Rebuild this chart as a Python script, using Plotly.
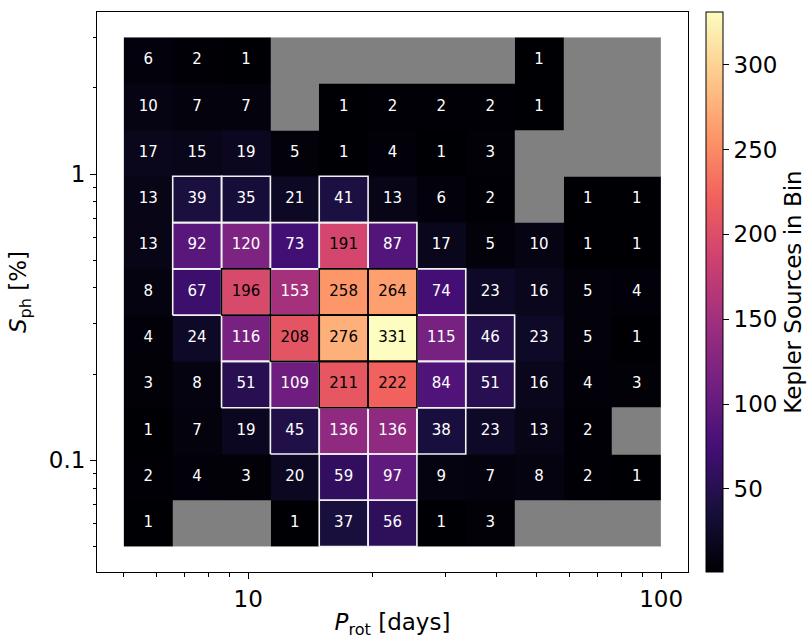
import numpy as np
import plotly.graph_objects as go

# Bin edges: rotation period [days] and photometric activity index S_ph [%]
prot_edges = np.logspace(np.log10(5.0), np.log10(100.0), 12)
sph_edges = np.logspace(np.log10(0.05), np.log10(3.0), 12)

# Counts per bin, listed from the top S_ph row down to the bottom row
# (None marks an empty bin)
row_11 = [6, 2, 1, None, None, None, None, None, 1, None, None]
row_10 = [10, 7, 7, None, 1, 2, 2, 2, 1, None, None]
row_09 = [17, 15, 19, 5, 1, 4, 1, 3, None, None, None]
row_08 = [13, 39, 35, 21, 41, 13, 6, 2, None, 1, 1]
row_07 = [13, 92, 120, 73, 191, 87, 17, 5, 10, 1, 1]
row_06 = [8, 67, 196, 153, 258, 264, 74, 23, 16, 5, 4]
row_05 = [4, 24, 116, 208, 276, 331, 115, 46, 23, 5, 1]
row_04 = [3, 8, 51, 109, 211, 222, 84, 51, 16, 4, 3]
row_03 = [1, 7, 19, 45, 136, 136, 38, 23, 13, 2, None]
row_02 = [2, 4, 3, 20, 59, 97, 9, 7, 8, 2, 1]
row_01 = [1, None, None, 1, 37, 56, 1, 3, None, None, None]

rows_bottom_up = [row_01, row_02, row_03, row_04, row_05, row_06,
                  row_07, row_08, row_09, row_10, row_11]

x_ticks = [10, 100]
y_ticks = [0.1, 1]
cbar_ticks = [50, 100, 150, 200, 250, 300]

counts = np.array([[np.nan if v is None else v for v in r] for r in rows_bottom_up],
                  dtype=float)
empty = np.where(np.isnan(counts), 1.0, np.nan)

magma = ['#000004', '#180f3d', '#440f76', '#721f81', '#9e2f7f',
         '#cd4071', '#f1605d', '#fd9668', '#feca8d', '#fcfdbf']
magma_scale = [[i / (len(magma) - 1), c] for i, c in enumerate(magma)]

zmin = np.nanmin(counts)
zmax = np.nanmax(counts)

fig = go.Figure()

# empty bins in grey
fig.add_trace(go.Heatmap(
    x=prot_edges, y=sph_edges, z=empty,
    colorscale=[[0, '#808080'], [1, '#808080']],
    showscale=False, hoverinfo='skip'))

# counts
fig.add_trace(go.Heatmap(
    x=prot_edges, y=sph_edges, z=counts,
    colorscale=magma_scale, zmin=zmin, zmax=zmax,
    colorbar=dict(
        x=(706 - 97) / 591, xanchor='left', xpad=0, ypad=0,
        y=0.5, yanchor='middle', len=1.0, lenmode='fraction',
        thickness=17, outlinewidth=1, outlinecolor='black',
        tickvals=cbar_ticks, ticks='outside', ticklen=6, tickcolor='black',
        tickfont=dict(family='DejaVu Sans', size=23, color='black'),
        title=dict(text='Kepler Sources in Bin', side='right',
                   font=dict(family='DejaVu Sans', size=23, color='black')),
    ),
    hoverinfo='skip'))

# cell outlines for well-populated bins, and the count labels
white_x, white_y, black_x, black_y = [], [], [], []
text_x, text_y, text_s, text_c = [], [], [], []
for j in range(counts.shape[0]):
    for i in range(counts.shape[1]):
        v = counts[j, i]
        if np.isnan(v):
            continue
        x0, x1 = prot_edges[i], prot_edges[i + 1]
        y0, y1 = sph_edges[j], sph_edges[j + 1]
        px = [x0, x1, x1, x0, x0, None]
        py = [y0, y0, y1, y1, y0, None]
        if v >= 193:
            black_x += px
            black_y += py
        elif v > 30:
            white_x += px
            white_y += py
        text_x.append(np.sqrt(x0 * x1))
        text_y.append(np.sqrt(y0 * y1))
        text_s.append(str(int(v)))
        text_c.append('black' if v >= 190 else 'white')

fig.add_trace(go.Scatter(x=white_x, y=white_y, mode='lines',
                         line=dict(color='#f2f2f2', width=1.6),
                         hoverinfo='skip', showlegend=False))
fig.add_trace(go.Scatter(x=black_x, y=black_y, mode='lines',
                         line=dict(color='black', width=1.6),
                         hoverinfo='skip', showlegend=False))
fig.add_trace(go.Scatter(x=text_x, y=text_y, mode='text', text=text_s,
                         textposition='middle center',
                         textfont=dict(family='DejaVu Sans', size=15, color=text_c),
                         hoverinfo='skip', showlegend=False))

# axis ranges: bin extent plus a 5% margin in log space
lx = np.log10([prot_edges[0], prot_edges[-1]])
ly = np.log10([sph_edges[0], sph_edges[-1]])
px_pad = 0.05 * (lx[1] - lx[0])
py_pad = 0.05 * (ly[1] - ly[0])

x_minor = [v for v in list(range(2, 10)) + list(range(20, 100, 10))
           if lx[0] - px_pad < np.log10(v) < lx[1] + px_pad]
y_minor = [v for v in [0.02, 0.03, 0.04, 0.05, 0.06, 0.07, 0.08, 0.09,
                       0.2, 0.3, 0.4, 0.5, 0.6, 0.7, 0.8, 0.9, 2, 3, 4]
           if ly[0] - py_pad < np.log10(v) < ly[1] + py_pad]

axis_common = dict(
    type='log', showgrid=False, zeroline=False, automargin=False,
    showline=True, mirror=True, linecolor='black', linewidth=1,
    ticks='outside', ticklen=6, tickwidth=1, tickcolor='black',
    tickfont=dict(family='DejaVu Sans', size=23, color='black'),
)

fig.update_layout(
    width=812, height=639,
    margin=dict(l=97, r=124, t=12, b=67, autoexpand=False),
    paper_bgcolor='white', plot_bgcolor='white',
    showlegend=False,
    xaxis=dict(
        **axis_common,
        range=[lx[0] - px_pad, lx[1] + px_pad],
        tickvals=x_ticks, ticktext=[str(v) for v in x_ticks],
        minor=dict(tickvals=x_minor, ticks='outside', ticklen=3.5,
                   tickcolor='black', showgrid=False),
        title=dict(text='<i>P</i><sub>rot</sub> [days]', standoff=14,
                   font=dict(family='DejaVu Sans', size=23, color='black')),
    ),
    yaxis=dict(
        **axis_common,
        range=[ly[0] - py_pad, ly[1] + py_pad],
        tickvals=y_ticks, ticktext=[str(v) for v in y_ticks],
        minor=dict(tickvals=y_minor, ticks='outside', ticklen=3.5,
                   tickcolor='black', showgrid=False),
        title=dict(text='<i>S</i><sub>ph</sub> [%]',
                   font=dict(family='DejaVu Sans', size=23, color='black')),
    ),
)

fig.write_html('out.html')
